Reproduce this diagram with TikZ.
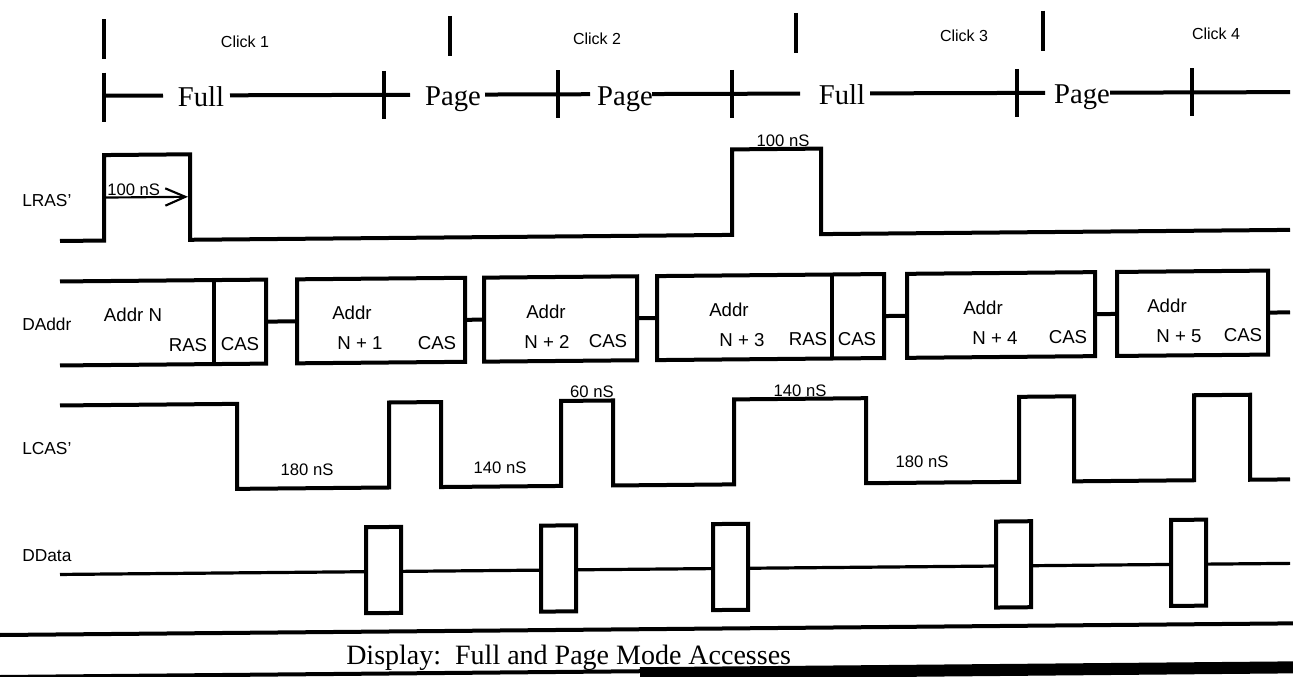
\documentclass[tikz,border=0pt]{standalone}
\usepackage{fontspec}
\setmainfont{Liberation Serif}
\setsansfont{Liberation Sans}
\usetikzlibrary{arrows.meta}
\begin{document}
\begin{tikzpicture}[x=0.75pt,y=-0.75pt,
  wave/.style={line width=3pt},
  dwire/.style={line width=2.4pt},
  sig/.style={font=\sffamily\fontsize{13}{15}\selectfont, anchor=base west, inner sep=0pt},
  lab/.style={font=\sffamily\fontsize{12.5}{15}\selectfont, anchor=base, inner sep=0pt},
  clk/.style={font=\sffamily\fontsize{12}{14}\selectfont, anchor=base, inner sep=0pt},
  addr/.style={font=\sffamily\fontsize{14}{16}\selectfont, anchor=base, inner sep=0pt},
  mode/.style={font=\rmfamily\fontsize{21.5}{24}\selectfont, anchor=base, inner sep=0pt}]
\useasboundingbox (0,0) rectangle (1293,677);
\fill[white] (0,0) rectangle (1293,677);
% ---------- mode row (almost level) ----------
\begin{scope}[yslant=0.003]
\draw[wave] (104,73) -- (104,122);
\foreach \x in {384,558,732,1017,1192} \draw[wave] (\x,72) -- (\x,120);
\draw[wave] (104,96) -- (163,96);
\draw[wave] (230,96) -- (410,96);
\draw[wave] (485,96) -- (590,96);
\draw[wave] (652,96) -- (800,96);
\draw[wave] (870,96) -- (1045,96);
\draw[wave] (1110,96) -- (1290,96);
\node[mode] (m1) at (201,107) {Full};
\node[mode] (m2) at (453,107) {Page};
\node[mode] (m3) at (625,107) {Page};
\node[mode] (m4) at (842,107) {Full};
\node[mode] (m5) at (1082,107) {Page};
\end{scope}
\begin{scope}[yslant=0.009]
% ---------- click bars ----------
\foreach \x in {104,450,796,1043} \draw[wave] (\x,20) -- (\x,60);
\node[clk] (c1) at (245,50) {Click 1};
\node[clk] (c2) at (597,50) {Click 2};
\node[clk] (c3) at (964,50) {Click 3};
\node[clk] (c4) at (1216,50) {Click 4};
% ---------- LRAS' ----------
\node[sig] (lras) at (22,207) {LRAS'};
\draw[wave] (60,241.5) -- (104,241.5) -- (104,156) -- (190,156) -- (190,241.5)
  -- (732,241.5) -- (732,156) -- (821,156) -- (821,241.5) -- (1290,241.5);
\draw[line width=1.6pt, -{Straight Barb[length=15pt,width=13pt,line width=1.6pt]}]
  (104,198.5) -- (188,198.5);
\node[lab, anchor=base west] (t1) at (107,196) {100 nS};
\node[lab] (t2) at (783,154) {100 nS};
% ---------- DAddr ----------
\node[sig] (daddr) at (22,331) {DAddr};
\draw[wave] (60,282) -- (266,282) -- (266,366) -- (60,366);
\draw[wave] (214,282) -- (214,366);
\draw[wave] (297,282) rectangle (465,366);
\draw[wave] (484,282) rectangle (637,366);
\draw[wave] (657,282) rectangle (884,366);
\draw[wave] (832,282) -- (832,366);
\draw[wave] (907,282) rectangle (1095,366);
\draw[wave] (1117,282) rectangle (1268,366);
\draw[wave] (266,324) -- (297,324);
\draw[wave] (465,324) -- (484,324);
\draw[wave] (637,324) -- (657,324);
\draw[wave] (884,324) -- (907,324);
\draw[wave] (1095,324) -- (1117,324);
\draw[wave] (1268,324) -- (1290,324);
\node[addr] (a0) at (133,323) {Addr N};
\node[addr] (r0) at (188,353) {RAS};
\node[addr] (k0) at (240,353) {CAS};
\node[addr] (a1) at (352,323) {Addr};
\node[addr] (n1) at (360,353) {N + 1};
\node[addr] (k1) at (437,353) {CAS};
\node[addr] (a2) at (546,323) {Addr};
\node[addr] (n2) at (547,353) {N + 2};
\node[addr] (k2) at (608,353) {CAS};
\node[addr] (a3) at (729,323) {Addr};
\node[addr] (n3) at (742,353) {N + 3};
\node[addr] (r3) at (808,353) {RAS};
\node[addr] (k3) at (857,353) {CAS};
\node[addr] (a4) at (983,323) {Addr};
\node[addr] (n4) at (995,353) {N + 4};
\node[addr] (k4) at (1068,353) {CAS};
\node[addr] (a5) at (1167,323) {Addr};
\node[addr] (n5) at (1179,353) {N + 5};
\node[addr] (k5) at (1243,353) {CAS};
% ---------- LCAS' ----------
\node[sig] (lcas) at (22,455) {LCAS'};
\draw[wave] (60,406) -- (237,406) -- (237,491) -- (389,491) -- (389,406) -- (441,406)
  -- (441,491) -- (561,491) -- (561,406) -- (613,406) -- (613,491) -- (734,491)
  -- (734,406) -- (866,406) -- (866,491) -- (1019,491) -- (1019,406) -- (1074,406)
  -- (1074,491) -- (1194,491) -- (1194,406) -- (1250,406) -- (1250,491) -- (1290,491);
\node[lab] (l1) at (307,478) {180 nS};
\node[lab] (l2) at (500,478) {140 nS};
\node[lab] (l3) at (592,403) {60 nS};
\node[lab] (l4) at (800,404) {140 nS};
\node[lab] (l5) at (922,476) {180 nS};
% ---------- DData ----------
\node[sig] (ddata) at (22,562) {DData};
\draw[dwire] (60,575) -- (1290,575);
\foreach \x in {366,541,713,996,1171}
  \draw[wave, fill=white] (\x,530.5) rectangle ++(35,86);
% ---------- caption ----------
\draw[line width=3pt] (0,635) -- (1293,635);
\node[mode, anchor=base west, font=\rmfamily\fontsize{21}{24}\selectfont] (title) at (346,668) {Display:\ \ Full and Page Mode Accesses};
\draw[line width=3pt] (0,677) -- (660,677);
\draw[line width=9pt] (640,679) -- (1293,679);
\end{scope}
\end{tikzpicture}
\end{document}
